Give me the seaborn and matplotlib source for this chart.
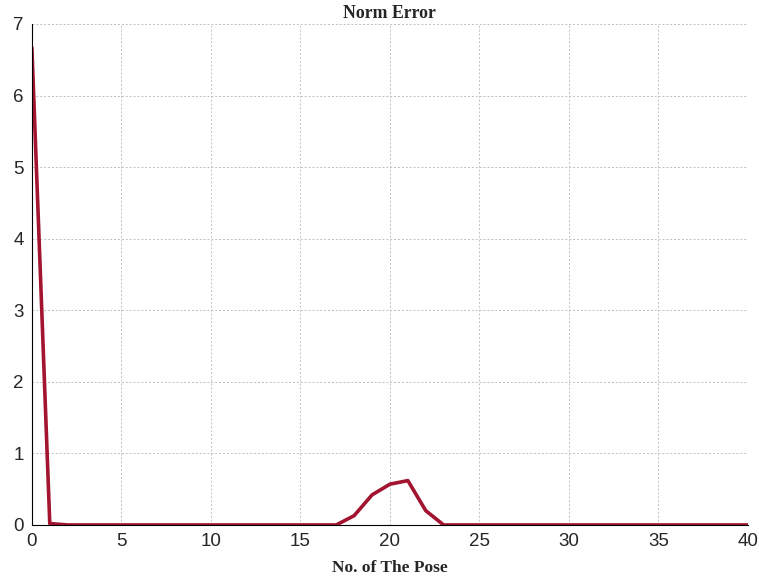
import matplotlib
matplotlib.use("Agg")
import matplotlib.pyplot as plt
import seaborn as sns
import pandas as pd

pose = list(range(0, 41))
error = [6.67, 0.02] + [0.0] * 16 + [0.13, 0.42, 0.57, 0.62, 0.20] + [0.0] * 18
xticks = [0, 5, 10, 15, 20, 25, 30, 35, 40]
yticks = [0, 1, 2, 3, 4, 5, 6, 7]

df = pd.DataFrame({"pose": pose, "error": error})

sns.set_style("white")
plt.rcParams["font.family"] = ["Liberation Sans", "DejaVu Sans"]
fig = plt.figure(figsize=(7.59, 5.82), dpi=100)
ax = fig.add_axes([0.042, 0.098, 0.9435, 0.8608])
sns.lineplot(data=df, x="pose", y="error", ax=ax, color="#A2142F", linewidth=2.6)

ax.set_xlim(0, 40)
ax.set_ylim(0, 7)
ax.set_xticks(xticks)
ax.set_yticks(yticks)
ax.grid(True, color="#c0c0c0", linestyle=(0, (2, 2)), linewidth=0.7)
for s in ["top", "right"]:
    ax.spines[s].set_visible(False)
for s in ["left", "bottom"]:
    ax.spines[s].set_color("black")
    ax.spines[s].set_linewidth(0.8)
ax.tick_params(direction="in", length=6, width=0.8, labelsize=13.5, colors="#262626", pad=6)
ax.set_title("Norm Error", family="Liberation Serif", fontweight="bold", fontsize=12.8, pad=4)
ax.set_xlabel("No. of The Pose", family="Liberation Serif", fontweight="bold", fontsize=12.5, labelpad=7)
ax.set_ylabel("")
fig.savefig("out.png", dpi=100)
